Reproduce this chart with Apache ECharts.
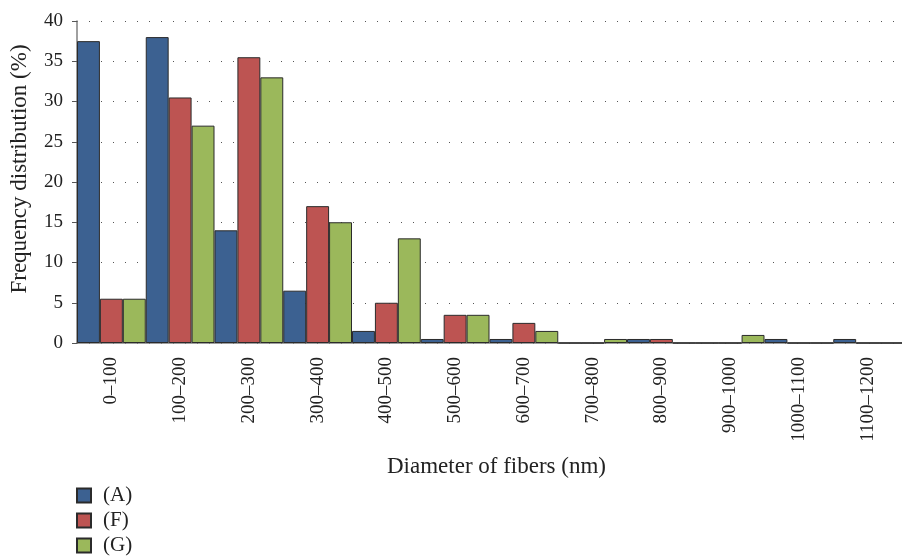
<!DOCTYPE html>
<html>
<head>
<meta charset="utf-8">
<script src="https://cdn.jsdelivr.net/npm/echarts@6/dist/echarts.min.js"></script>
<style>
  html, body { margin: 0; padding: 0; background: #fff; }
  #chart { width: 902px; height: 558px; }
</style>
</head>
<body>
<div id="chart"></div>
<script>
// Fiber diameter bins (nm)
const categories = ['0–100', '100–200', '200–300', '300–400', '400–500', '500–600',
                    '600–700', '700–800', '800–900', '900–1000', '1000–1100', '1100–1200'];

// Frequency distribution (%) per sample
const seriesA = [37.5, 38, 14, 6.5, 1.5, 0.5, 0.5, 0, 0.5, 0, 0.5, 0.5];
const seriesF = [5.5, 30.5, 35.5, 17, 5, 3.5, 2.5, 0, 0.5, 0, 0, 0];
const seriesG = [5.5, 27, 33, 15, 13, 3.5, 1.5, 0.5, 0, 1, 0, 0];

const seriesNames = ['(A)', '(F)', '(G)'];
const colors = ['#3c6191', '#bd5452', '#9bb85b'];

const yTicks = [0, 5, 10, 15, 20, 25, 30, 35, 40];

const font = '"Liberation Serif", "DejaVu Serif", serif';
const ink = '#222';

const chart = echarts.init(document.getElementById('chart'), null, { renderer: 'canvas' });

const makeSeries = (name, data, color) => ({
  name: name,
  type: 'bar',
  data: data,
  barGap: '0%',
  barCategoryGap: '0%',
  itemStyle: { color: color, borderColor: '#2b2b2b', borderWidth: 1 },
  emphasis: { disabled: true }
});

chart.setOption({
  animation: false,
  textStyle: { fontFamily: font },
  // the plot runs slightly past the right edge of the canvas
  grid: { left: 77, top: 21, width: 835, height: 322 },
  legend: {
    orient: 'vertical',
    left: 76,
    top: 485,
    height: 80,
    padding: 0,
    itemWidth: 14,
    itemHeight: 14,
    itemGap: 4,
    icon: 'rect',
    data: seriesNames,
    textStyle: { fontFamily: font, fontSize: 21, lineHeight: 18, color: ink, padding: [0, 0, 0, 7] }
  },
  xAxis: {
    type: 'category',
    data: categories,
    name: 'Diameter of fibers (nm)',
    nameLocation: 'middle',
    nameGap: 112,
    nameTextStyle: { fontFamily: font, fontSize: 23, color: ink, padding: [0, 0, 0, 14] },
    axisLine: { lineStyle: { color: '#808080', width: 1.5 } },
    axisTick: { alignWithLabel: true, length: 5, lineStyle: { color: '#333' } },
    axisLabel: { rotate: 90, margin: 14, fontFamily: font, fontSize: 19, color: ink, interval: 0 },
    splitLine: { show: false }
  },
  yAxis: {
    type: 'value',
    min: yTicks[0],
    max: yTicks[yTicks.length - 1],
    interval: 5,
    name: 'Frequency distribution (%)',
    nameLocation: 'middle',
    nameGap: 46,
    nameTextStyle: { fontFamily: font, fontSize: 23, color: ink, padding: [0, 0, 0, 26] },
    axisLine: { show: true, lineStyle: { color: '#808080', width: 1.5 } },
    axisTick: { show: true, length: 5, lineStyle: { color: '#555' } },
    axisLabel: { margin: 14, fontFamily: font, fontSize: 19, color: ink },
    splitLine: { show: true, lineStyle: { color: '#555', type: [1, 11], width: 1.2 } }
  },
  series: [
    makeSeries(seriesNames[0], seriesA, colors[0]),
    makeSeries(seriesNames[1], seriesF, colors[1]),
    makeSeries(seriesNames[2], seriesG, colors[2])
  ]
});
</script>
</body>
</html>
